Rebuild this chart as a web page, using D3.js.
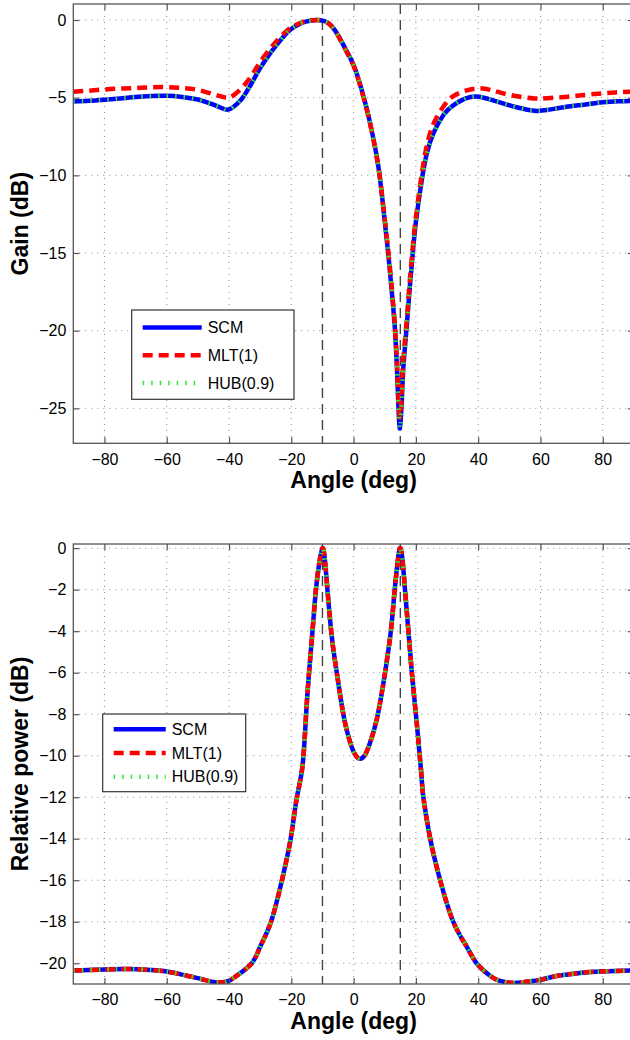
<!DOCTYPE html>
<html>
<head>
<meta charset="utf-8">
<script src="https://cdn.jsdelivr.net/npm/d3@7/dist/d3.min.js"></script>
<style>
  html, body { margin: 0; padding: 0; background: #fff; }
  svg { display: block; }
  text { font-family: "Liberation Sans", Arial, Helvetica, sans-serif; fill: #000; }
</style>
</head>
<body>
<div id="chart"></div>
<script>
// ---- data ----
const angleTicks = [-80, -60, -40, -20, 0, 20, 40, 60, 80];
const gainTicks = [0, -5, -10, -15, -20, -25];
const powerTicks = [0, -2, -4, -6, -8, -10, -12, -14, -16, -18, -20];
const doaLines = [-10, 15];
const seriesNames = ["SCM", "MLT(1)", "HUB(0.9)"];

// top panel: beam gain (dB)
const gainAngles = [-90, -85, -80, -75, -70, -65, -60, -55, -50, -45, -42, -40.5, -38.6, -36, -34.3, -32, -30, -27, -24.7, -22, -20, -17, -14, -11.5,
  -9, -7, -5, -2.5, 0, 2, 4.2, 6, 8, 9.6, 11.2, 12.5, 13.3, 14.1, 14.9, 15.7, 16.3, 17.1, 18, 19, 20, 21.9, 23.5, 25.6, 28.9, 32, 36, 40,
  44, 48, 53, 58, 62, 68, 74, 80, 85, 90];
const scmGain = [-5.25, -5.2, -5.13, -5.05, -4.96, -4.9, -4.88, -4.95, -5.12, -5.45, -5.7, -5.78, -5.6, -5.1, -4.6, -3.8, -3.1, -2.2, -1.6, -0.95, -0.58, -0.22, -0.05, 0,
  -0.1, -0.4, -0.97, -1.9, -2.9, -4.1, -5.7, -7.3, -9.5, -12.2, -15.2, -18, -20, -23.3, -26.3, -23.4, -21.5, -19.6, -17.3, -15, -13, -10.3, -8.6, -7.3, -6.1, -5.5, -5.05, -4.94,
  -5.12, -5.37, -5.65, -5.84, -5.8, -5.6, -5.45, -5.3, -5.23, -5.2];
const mltGain = [-4.62, -4.55, -4.47, -4.42, -4.38, -4.33, -4.32, -4.38, -4.5, -4.78, -4.95, -5.0, -4.85, -4.4, -4.0, -3.35, -2.7, -1.9, -1.35, -0.8, -0.48, -0.18, -0.04, 0,
  -0.1, -0.42, -1.0, -1.95, -2.95, -4.15, -5.75, -7.35, -9.5, -12.1, -15, -17.8, -19.8, -22.8, -25.6, -22.8, -21, -19.2, -16.9, -14.6, -12.7, -9.9, -8.1, -6.7, -5.55, -4.9, -4.55, -4.4,
  -4.5, -4.72, -4.93, -5.05, -5.04, -4.95, -4.83, -4.72, -4.65, -4.6];
const hubGain = [-5.25, -5.2, -5.13, -5.05, -4.96, -4.9, -4.88, -4.95, -5.12, -5.45, -5.7, -5.78, -5.6, -5.1, -4.6, -3.8, -3.1, -2.2, -1.6, -0.95, -0.58, -0.22, -0.05, 0,
  -0.1, -0.4, -0.97, -1.9, -2.9, -4.1, -5.7, -7.3, -9.5, -12.2, -15.2, -18, -20, -23.3, -26.3, -23.4, -21.5, -19.6, -17.3, -15, -13, -10.3, -8.6, -7.3, -6.1, -5.5, -5.05, -4.94,
  -5.12, -5.37, -5.65, -5.84, -5.8, -5.6, -5.45, -5.3, -5.23, -5.2];

// bottom panel: relative power (dB), all three estimators overlap
const powerAngles = [-90, -80, -72, -65, -60, -55, -50, -45, -42, -40, -37.5, -32.7, -30, -26.5, -23, -20.2, -18.2, -16.4, -15.25, -14.3, -13.2, -12.1, -11, -10,
  -9.2, -8.4, -7.2, -6.1, -4.9, -3.05, -1.1, 0.5, 2.1, 3.7, 5.3, 7.45, 9.6, 11.2, 12.25, 13.2, 14.2, 15,
  15.8, 16.5, 17.6, 18.7, 20, 21.7, 22.4, 24.6, 27.8, 32, 36.3, 39.5, 43.8, 47, 51.3, 55, 59.9, 64, 68.4, 74, 79, 84, 90];
const scmPower = [-20.35, -20.3, -20.28, -20.33, -20.4, -20.55, -20.72, -20.9, -20.92, -20.85, -20.6, -20.0, -19.2, -18, -16, -14, -12, -10.5, -8, -6, -4, -2, -0.7, 0,
  -0.6, -2, -4, -5.3, -6.5, -8.2, -9.36, -9.95, -10.15, -9.95, -9.36, -8.24, -6.48, -4.88, -3.6, -2, -0.6, 0,
  -0.7, -2, -4, -6, -8, -10.8, -12, -14, -16, -18, -19.2, -20, -20.6, -20.85, -20.95, -20.9, -20.8, -20.65, -20.55, -20.45, -20.4, -20.37, -20.35];
const mltPower = scmPower.slice();
const hubPower = scmPower.slice();

// ---- layout ----
const W = 630, H = 1040;
const FONT = "'Liberation Sans', Arial, Helvetica, sans-serif";

const svg = d3.select("#chart").append("svg")
  .attr("width", W)
  .attr("height", H);

const x = d3.scaleLinear().domain([-90, 90]).range([73.3, 633.9]);

const styles = [
  { color: "#0000ff", dash: null, width: 4.5 },
  { color: "#ff0000", dash: "10,6", width: 4.5 },
  { color: "#2ee82e", dash: "1.5,7", width: 4.5 }
];

function drawPanel(opts) {
  const y = d3.scaleLinear().domain(opts.yDomain).range([opts.bottom, opts.top]);
  const g = svg.append("g");
  const left = x.range()[0], right = x.range()[1];

  const clipId = "clip" + opts.id;
  svg.append("clipPath").attr("id", clipId)
    .append("rect")
    .attr("x", left).attr("y", opts.top)
    .attr("width", right - left).attr("height", opts.bottom - opts.top);

  // grid
  g.append("g").selectAll("line")
    .data(angleTicks)
    .enter().append("line")
    .attr("x1", d => x(d)).attr("x2", d => x(d))
    .attr("y1", opts.top).attr("y2", opts.bottom)
    .attr("stroke", "#8a8a8a").attr("stroke-width", 1)
    .attr("stroke-dasharray", "1,5");
  g.append("g").selectAll("line")
    .data(opts.yTicks)
    .enter().append("line")
    .attr("x1", left).attr("x2", right)
    .attr("y1", d => y(d)).attr("y2", d => y(d))
    .attr("stroke", "#8a8a8a").attr("stroke-width", 1)
    .attr("stroke-dasharray", "1,5");

  // source directions
  g.append("g").selectAll("line")
    .data(doaLines)
    .enter().append("line")
    .attr("x1", d => x(d)).attr("x2", d => x(d))
    .attr("y1", opts.top).attr("y2", opts.bottom)
    .attr("stroke", "#444").attr("stroke-width", 1.4)
    .attr("stroke-dasharray", "10,6");

  // curves
  const line = d3.line()
    .x(d => x(d[0]))
    .y(d => y(d[1]))
    .curve(d3.curveNatural);

  const curves = g.append("g").attr("clip-path", `url(#${clipId})`);
  opts.series.forEach((vals, i) => {
    const pts = opts.angles.map((a, k) => [a, vals[k]]);
    curves.append("path")
      .datum(pts)
      .attr("d", line)
      .attr("fill", "none")
      .attr("stroke", styles[i].color)
      .attr("stroke-width", styles[i].width)
      .attr("stroke-dasharray", styles[i].dash)
      .attr("stroke-linejoin", "round");
  });

  // axes
  const fmt = d => String(d).replace("-", "\u2212");
  const xAxis = d3.axisBottom(x).tickValues(angleTicks)
    .tickSize(-6).tickPadding(10).tickFormat(fmt);
  const yAxis = d3.axisLeft(y).tickValues(opts.yTicks)
    .tickSize(-6).tickPadding(7).tickFormat(fmt);

  const axB = g.append("g").attr("transform", `translate(0,${opts.bottom})`).call(xAxis);
  const axL = g.append("g").attr("transform", `translate(${left},0)`).call(yAxis);
  g.append("g").attr("transform", `translate(0,${opts.top})`)
    .call(d3.axisTop(x).tickValues(angleTicks).tickSize(-6).tickFormat(""));
  g.append("g").attr("transform", `translate(${right},0)`)
    .call(d3.axisRight(y).tickValues(opts.yTicks).tickSize(-6).tickFormat(""));

  g.selectAll(".domain").remove();
  g.selectAll(".tick line").attr("stroke", "#555").attr("stroke-width", 1.2);
  [axB, axL].forEach(a => a.selectAll("text")
    .attr("font-family", FONT).attr("font-size", 16).attr("fill", "#000"));

  // frame
  g.append("rect")
    .attr("x", left).attr("y", opts.top)
    .attr("width", right - left).attr("height", opts.bottom - opts.top)
    .attr("fill", "none").attr("stroke", "#555").attr("stroke-width", 1.3);

  // titles
  g.append("text")
    .attr("x", (left + right) / 2).attr("y", opts.bottom + 45)
    .attr("text-anchor", "middle")
    .attr("font-size", 23).attr("font-weight", "bold")
    .text("Angle (deg)");
  g.append("text")
    .attr("transform", `translate(28,${(opts.top + opts.bottom) / 2}) rotate(-90)`)
    .attr("text-anchor", "middle")
    .attr("font-size", 23).attr("font-weight", "bold")
    .text(opts.yTitle);

  // legend
  const L = opts.legend;
  const lg = g.append("g");
  lg.append("rect")
    .attr("x", L.x).attr("y", L.y)
    .attr("width", L.w).attr("height", L.h)
    .attr("fill", "#fff").attr("stroke", "#333").attr("stroke-width", 1.2);
  seriesNames.forEach((name, i) => {
    const ry = L.y + L.first + i * L.step;
    lg.append("line")
      .attr("x1", L.x + 11).attr("x2", L.x + 11 + L.len)
      .attr("y1", ry).attr("y2", ry)
      .attr("stroke", styles[i].color)
      .attr("stroke-width", styles[i].width)
      .attr("stroke-dasharray", styles[i].dash);
    lg.append("text")
      .attr("x", L.x + 17 + L.len).attr("y", ry)
      .attr("dy", "0.36em")
      .attr("font-size", 16)
      .text(name);
  });
}

drawPanel({
  id: "gain",
  top: 4, bottom: 443.3,
  yDomain: [-27.25, 1.03],
  yTicks: gainTicks,
  angles: gainAngles,
  series: [scmGain, mltGain, hubGain],
  yTitle: "Gain (dB)",
  legend: { x: 131.7, y: 310, w: 162.3, h: 89.3, first: 17.5, step: 27.7, len: 59 }
});

drawPanel({
  id: "power",
  top: 544, bottom: 984,
  yDomain: [-21, 0.2],
  yTicks: powerTicks,
  angles: powerAngles,
  series: [scmPower, mltPower, hubPower],
  yTitle: "Relative power (dB)",
  legend: { x: 102.7, y: 714, w: 143, h: 77.7, first: 15.3, step: 23.7, len: 52 }
});
</script>
</body>
</html>
